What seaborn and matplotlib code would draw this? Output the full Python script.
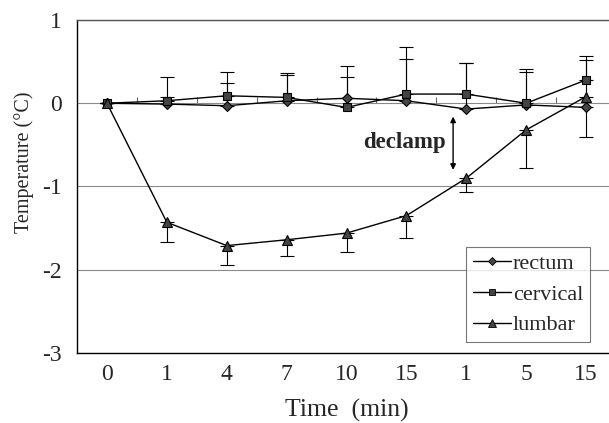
import matplotlib
matplotlib.use("Agg")
from matplotlib import pyplot as plt
from matplotlib.lines import Line2D
import pandas as pd
import seaborn as sns
import numpy as np

# values
time_labels = ["0", "1", "4", "7", "10", "15", "1", "5", "15"]
rectum = [0, -0.01, -0.03, 0.03, 0.06, 0.03, -0.07, -0.02, -0.05]
cervical = [0, 0.03, 0.09, 0.07, -0.05, 0.11, 0.11, 0.00, 0.28]
lumbar = [0, -1.43, -1.71, -1.64, -1.56, -1.35, -0.90, -0.32, 0.08]
# one-sided error bars: rectum/cervical upward, lumbar downward
rectum_err = [0, 0.08, 0.27, 0.31, 0.39, 0.50, 0.55, 0.40, 0.57]
cervical_err = [0, 0.29, 0.29, 0.29, 0.36, 0.57, 0.37, 0.41, 0.29]
lumbar_err = [0, 0.24, 0.23, 0.20, 0.23, 0.27, 0.17, 0.46, 0.48]

sites = ["rectum", "cervical", "lumbar"]
markers = {"rectum": "D", "cervical": "s", "lumbar": "^"}
marker_sizes = {"rectum": 5, "cervical": 6, "lumbar": 7}

pos = np.arange(len(time_labels))
df = pd.DataFrame({
    "pos": np.tile(pos, 3),
    "temp": rectum + cervical + lumbar,
    "site": np.repeat(sites, len(pos)),
})

sns.set_style("white")
plt.rcParams["font.family"] = ["Liberation Serif", "DejaVu Serif"]

fig = plt.figure(figsize=(6.09, 4.23), dpi=100)
ax = fig.add_axes([77 / 609, 1 - 353 / 423, 539 / 609, 333 / 423])

# y grid lines first so they sit under the data
ax.set_yticks([1, 0, -1, -2, -3])
ax.yaxis.grid(True, color="#8a8a8a", linewidth=0.8)
ax.set_axisbelow(True)

# error bars
ax.errorbar(pos, rectum, yerr=[np.zeros(len(pos)), rectum_err], fmt="none",
            ecolor="black", elinewidth=0.8, capsize=5, capthick=0.8, zorder=2)
ax.errorbar(pos, cervical, yerr=[np.zeros(len(pos)), cervical_err], fmt="none",
            ecolor="black", elinewidth=0.8, capsize=5, capthick=0.8, zorder=2)
ax.errorbar(pos, lumbar, yerr=[lumbar_err, np.zeros(len(pos))], fmt="none",
            ecolor="black", elinewidth=0.8, capsize=5, capthick=0.8, zorder=2)

for site in sites:
    sub = df[df["site"] == site]
    sns.lineplot(data=sub, x="pos", y="temp", ax=ax, color="black",
                 linewidth=1.0, marker=markers[site], markersize=marker_sizes[site],
                 markerfacecolor="#444444", markeredgecolor="black",
                 markeredgewidth=0.8, zorder=3, legend=False)

ax.set_xlim(-0.5, 8.5)
ax.set_ylim(-3, 1)
ax.set_xticks(pos)
ax.set_xticklabels(time_labels)
ax.set_yticklabels(["1", "0", "-1", "-2", "-3"])
ax.tick_params(axis="both", length=0, labelsize=17)
ax.tick_params(axis="x", pad=8)
ax.tick_params(axis="y", pad=11)

ax.set_xlabel("Time  (min)", fontsize=18.5, labelpad=10)
ax.set_ylabel("Temperature (°C)", fontsize=14.5)
ax.yaxis.set_label_coords(-0.08, 0.574)

for side in ["left", "bottom"]:
    ax.spines[side].set_color("black")
    ax.spines[side].set_linewidth(1.0)
ax.spines["top"].set_color("#555555")
ax.spines["top"].set_linewidth(1.0)
ax.spines["right"].set_visible(False)

# category boundary ticks along the zero line
sec = ax.secondary_xaxis(0.75)
sec.set_xticks(pos[:-1] + 0.5)
sec.xaxis.set_ticks_position("top")
sec.tick_params(axis="x", direction="out", length=4, width=0.8, color="#666666",
                labeltop=False, labelbottom=False)
for sp in sec.spines.values():
    sp.set_visible(False)

# declamp marker
ax.annotate("", xy=(5.78, -0.80), xytext=(5.78, -0.16),
            arrowprops=dict(arrowstyle="<|-|>", color="black", lw=1.0,
                            mutation_scale=8, shrinkA=0, shrinkB=0))
ax.text(5.66, -0.47, "declamp", ha="right", va="center", fontsize=16.5,
        fontweight="bold")

handles = [Line2D([0], [0], color="black", linewidth=1.0, marker=markers[s],
                  markersize=marker_sizes[s] - 1, markerfacecolor="#444444",
                  markeredgecolor="black", markeredgewidth=0.6)
           for s in sites]
leg = ax.legend(handles, sites, loc="lower left", bbox_to_anchor=(0.722, 0.033),
                fontsize=16, frameon=True, fancybox=False, handlelength=1.7,
                handletextpad=0.1, labelspacing=0.45, borderpad=0.3,
                borderaxespad=0)
leg.get_frame().set_edgecolor("#555555")
leg.get_frame().set_linewidth(0.8)

fig.savefig("out.png", dpi=100)
